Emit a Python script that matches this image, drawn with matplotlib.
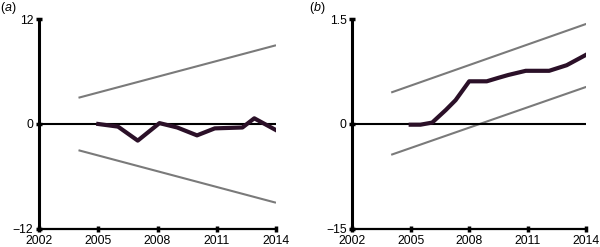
import matplotlib.pyplot as plt

plt.rcParams['font.family'] = ['Liberation Sans', 'DejaVu Sans']
plt.rcParams['mathtext.fontset'] = 'custom'
plt.rcParams['mathtext.it'] = 'Liberation Sans:italic'

# panel (a)
a_years = [2005.0, 2006.0, 2007.0, 2008.1, 2009.0, 2010.0, 2010.9, 2012.3, 2012.9, 2014.0]
a_vals = [0.0, -0.3, -1.9, 0.1, -0.4, -1.3, -0.5, -0.4, 0.65, -0.7]
a_band_years = [2004, 2014]
a_upper = [3.0, 9.0]
a_lower = [-3.0, -9.0]

# panel (b)
b_years = [2005.0, 2005.5, 2006.1, 2006.8, 2007.3, 2008.0, 2008.9, 2009.5, 2010.0, 2010.9, 2012.1, 2013.0, 2014.0]
b_vals = [-0.01, -0.01, 0.02, 0.2, 0.34, 0.61, 0.61, 0.66, 0.70, 0.76, 0.76, 0.84, 0.99]
b_band_years = [2004, 2014]
b_upper = [0.45, 1.43]
b_lower = [-0.44, 0.53]

x_ticks = [2002, 2005, 2008, 2011, 2014]
a_yticks = [-12, 0, 12]
a_ylabels = ['\u221212', '0', '12']
b_yticks = [-1.5, 0, 1.5]
b_ylabels = ['\u221215', '0', '1.5']

fig = plt.figure(figsize=(6, 2.47), dpi=100)
ax1 = fig.add_axes([0.065, 0.073, 0.395, 0.850])
ax2 = fig.add_axes([0.587, 0.073, 0.390, 0.850])

panels = [
    (ax1, a_years, a_vals, a_band_years, a_upper, a_lower, a_yticks, a_ylabels, 'a', 0.0),
    (ax2, b_years, b_vals, b_band_years, b_upper, b_lower, b_yticks, b_ylabels, 'b', 309 / 600),
]

for ax, yrs, vals, byrs, up, lo, yt, yl, tag, tx in panels:
    ax.plot(byrs, up, color='#7a7a7a', lw=1.5, solid_capstyle='butt')
    ax.plot(byrs, lo, color='#7a7a7a', lw=1.5, solid_capstyle='butt')
    ax.axhline(0, color='black', lw=1.5, zorder=2)
    ax.plot(yrs, vals, color='#2b1028', lw=3, zorder=3, solid_joinstyle='round')
    ax.set_xlim(2002, 2014)
    ax.set_ylim(yt[0], yt[-1])
    ax.set_xticks(x_ticks)
    ax.set_yticks(yt)
    ax.set_yticklabels(yl)
    for s in ['top', 'right']:
        ax.spines[s].set_visible(False)
    ax.spines['left'].set_linewidth(2.2)
    ax.spines['bottom'].set_linewidth(1.6)
    ax.tick_params(axis='both', direction='inout', length=4, width=2.5,
                   labelsize=8.8, colors='black')
    ax.tick_params(axis='x', pad=2.5)
    ax.tick_params(axis='y', pad=2)
    fig.text(tx, 1 - 8 / 247, '($\\it{' + tag + '}$)', fontsize=9, ha='left', va='center')

fig.savefig('out.png', dpi=100)
